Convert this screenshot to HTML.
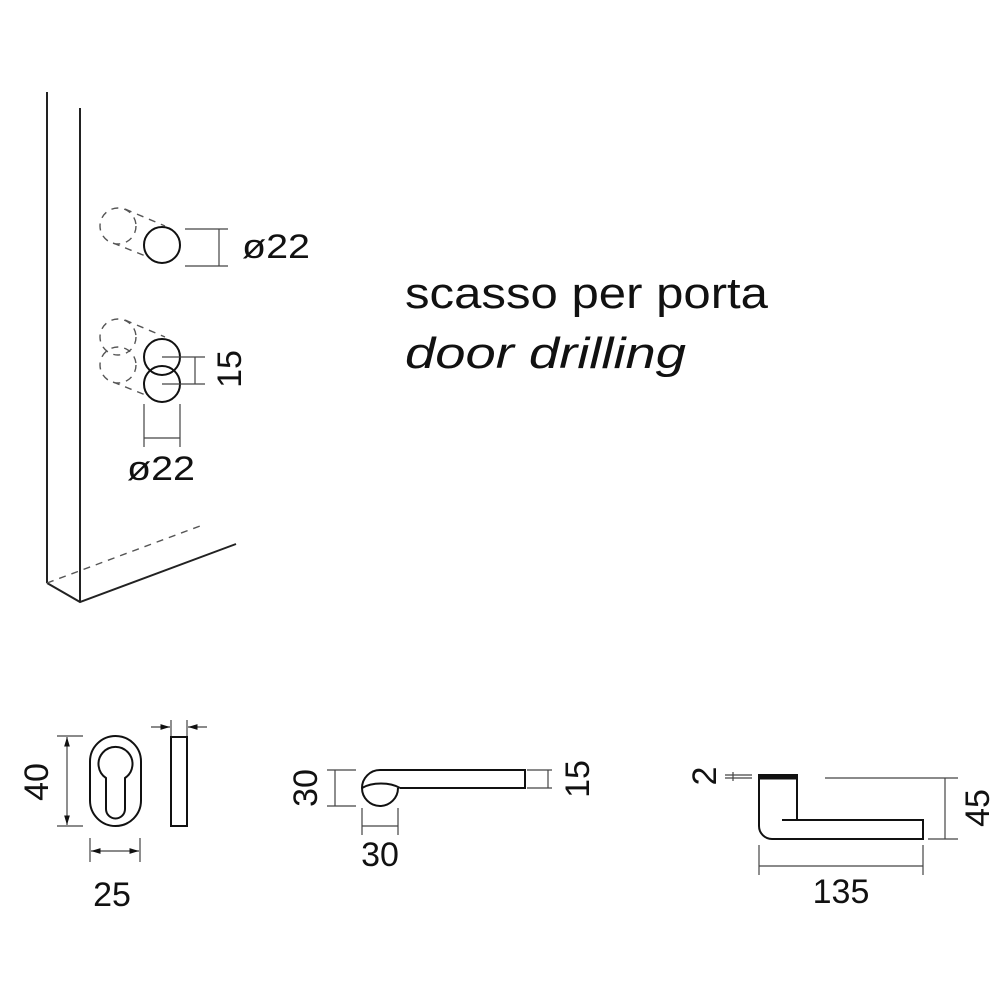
<!DOCTYPE html>
<html><head><meta charset="utf-8"><style>
html,body{margin:0;padding:0;background:#fff}
svg{display:block}
text{font-family:"Liberation Sans",sans-serif;fill:#111}
</style></head><body>
<svg width="1000" height="1002" viewBox="0 0 1000 1002" xmlns="http://www.w3.org/2000/svg">
<defs>
<marker id="a" viewBox="0 0 10 10" refX="10" refY="5" markerWidth="8" markerHeight="8" orient="auto-start-reverse"><path d="M0,2 L10,5 L0,8 z" fill="#111"/></marker>
</defs>
<g fill="none" stroke="#222" stroke-width="2">
<line x1="47" y1="92" x2="47" y2="583"/>
<line x1="80" y1="108" x2="80" y2="602"/>
<polyline points="47,583 80,602 236,544"/>
</g>
<g fill="none" stroke="#555" stroke-width="1.4" stroke-dasharray="7,6">
<line x1="47" y1="583" x2="200" y2="526"/>
<circle cx="118" cy="226" r="18"/>
<line x1="125" y1="209" x2="165" y2="226"/>
<line x1="113" y1="243" x2="148" y2="257"/>
<circle cx="118" cy="337" r="18"/>
<circle cx="118" cy="365" r="18"/>
<line x1="125" y1="320" x2="165" y2="337"/>
<line x1="113" y1="382" x2="148" y2="396"/>
</g>
<g fill="none" stroke="#111" stroke-width="2">
<circle cx="162" cy="245" r="18"/>
<circle cx="162" cy="357" r="18"/>
<circle cx="162" cy="384" r="18"/>
</g>
<g stroke="#444" stroke-width="1.2" fill="none">
<line x1="185" y1="229" x2="228" y2="229"/>
<line x1="185" y1="266" x2="228" y2="266"/>
<line x1="219" y1="229" x2="219" y2="266"/>
<line x1="162" y1="357" x2="205" y2="357"/>
<line x1="162" y1="384" x2="205" y2="384"/>
<line x1="195" y1="357" x2="195" y2="384"/>
<line x1="144" y1="404" x2="144" y2="447"/>
<line x1="180" y1="404" x2="180" y2="447"/>
<line x1="144" y1="438" x2="180" y2="438"/>
</g>
<text x="242" y="258" font-size="34" textLength="68" lengthAdjust="spacingAndGlyphs">ø22</text>
<text x="127" y="480" font-size="34" textLength="68" lengthAdjust="spacingAndGlyphs">ø22</text>
<text transform="translate(241,369) rotate(-90)" font-size="34" text-anchor="middle">15</text>
<text x="405" y="308" font-size="44" textLength="363" lengthAdjust="spacingAndGlyphs">scasso per porta</text>
<text x="405" y="368" font-size="44" font-style="italic" textLength="281" lengthAdjust="spacingAndGlyphs">door drilling</text>

<g fill="none" stroke="#111" stroke-width="2">
<rect x="90" y="736" width="51" height="90" rx="25.5"/>
<path d="M106,809 L106,778 A17,17 0 1 1 125,778 L125,809 A9.5,9.5 0 0 1 106,809 Z"/>
<rect x="171" y="737" width="16" height="89"/>
</g>
<g stroke="#444" stroke-width="1.2" fill="none">
<line x1="57" y1="736" x2="83" y2="736"/>
<line x1="57" y1="826" x2="83" y2="826"/>
<line x1="67" y1="737" x2="67" y2="825" marker-start="url(#a)" marker-end="url(#a)"/>
<line x1="90" y1="838" x2="90" y2="862"/>
<line x1="140" y1="838" x2="140" y2="862"/>
<line x1="91" y1="851" x2="139" y2="851" marker-start="url(#a)" marker-end="url(#a)"/>
<line x1="171" y1="720" x2="171" y2="736"/>
<line x1="187" y1="720" x2="187" y2="736"/>
<line x1="151" y1="727" x2="170" y2="727" marker-end="url(#a)"/>
<line x1="207" y1="727" x2="188" y2="727" marker-end="url(#a)"/>
</g>
<text transform="translate(48,782) rotate(-90)" font-size="34" text-anchor="middle">40</text>
<text x="112" y="906" font-size="34" text-anchor="middle">25</text>

<g fill="none" stroke="#111" stroke-width="2">
<path d="M380,770 L525,770 L525,788 L400,788 M380,770 A18,18 0 0 0 362,788 A18,18 0 0 0 398,788"/>
<path d="M362,788 C372,782 390,782 400,788"/>
</g>
<g stroke="#444" stroke-width="1.2" fill="none">
<line x1="327" y1="770" x2="356" y2="770"/>
<line x1="327" y1="806" x2="356" y2="806"/>
<line x1="335" y1="770" x2="335" y2="806"/>
<line x1="362" y1="808" x2="362" y2="835"/>
<line x1="398" y1="808" x2="398" y2="835"/>
<line x1="362" y1="826" x2="398" y2="826"/>
<line x1="527" y1="770" x2="552" y2="770"/>
<line x1="527" y1="788" x2="552" y2="788"/>
<line x1="548" y1="770" x2="548" y2="788"/>
</g>
<text transform="translate(317,788) rotate(-90)" font-size="34" text-anchor="middle">30</text>
<text x="380" y="866" font-size="34" text-anchor="middle">30</text>
<text transform="translate(589,779) rotate(-90)" font-size="34" text-anchor="middle">15</text>

<g fill="none" stroke="#111" stroke-width="2">
<path d="M797,776 L797,820 M782,820 L923,820 L923,839 L772,839 A13,13 0 0 1 759,826 L759,776 L797,776"/>
<rect x="759" y="775" width="38" height="3.5" fill="#111"/>
</g>
<g stroke="#444" stroke-width="1.2" fill="none">
<line x1="825" y1="778" x2="958" y2="778"/>
<line x1="928" y1="839" x2="958" y2="839"/>
<line x1="945" y1="778" x2="945" y2="839"/>
<line x1="725" y1="775" x2="752" y2="775"/>
<line x1="725" y1="778" x2="752" y2="778"/>
<line x1="733" y1="772" x2="733" y2="781"/>
<line x1="759" y1="845" x2="759" y2="875"/>
<line x1="923" y1="845" x2="923" y2="875"/>
<line x1="759" y1="866" x2="923" y2="866"/>
</g>
<text transform="translate(716,776) rotate(-90)" font-size="34" text-anchor="middle">2</text>
<text transform="translate(989,808) rotate(-90)" font-size="34" text-anchor="middle">45</text>
<text x="841" y="903" font-size="34" text-anchor="middle">135</text>
</svg>
</body></html>
